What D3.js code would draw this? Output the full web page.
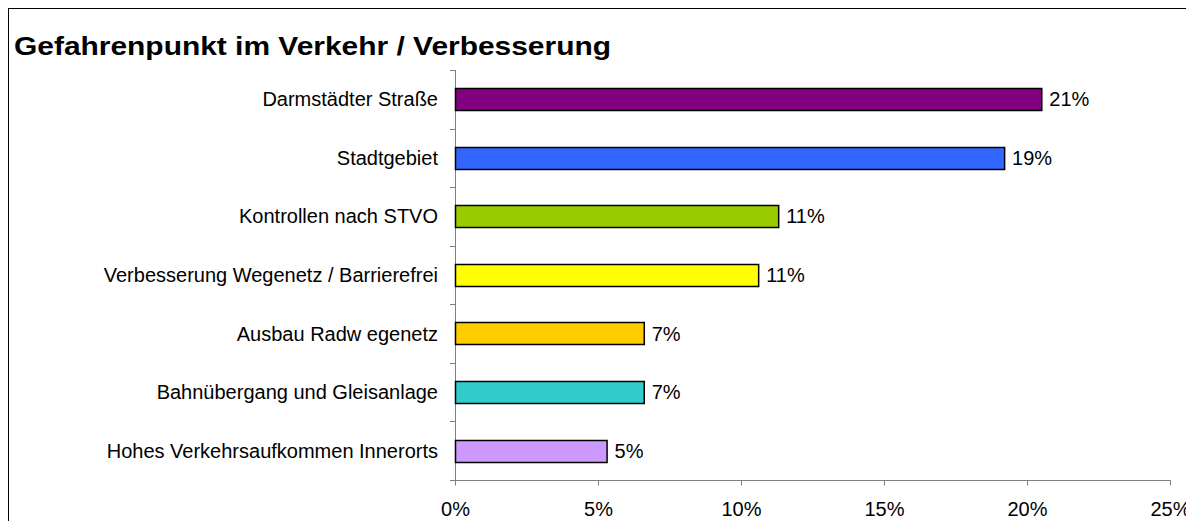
<!DOCTYPE html>
<html><head><meta charset="utf-8">
<script src="https://cdn.jsdelivr.net/npm/d3@7"></script>
<style>body{margin:0;background:#fff;}svg{display:block;font-family:"Liberation Sans",Arial,sans-serif;}</style>
</head><body>
<svg id="c" width="1186" height="521"></svg>
<script>
const categories = ["Darmstädter Straße","Stadtgebiet","Kontrollen nach STVO","Verbesserung Wegenetz / Barrierefrei","Ausbau Radw egenetz","Bahnübergang und Gleisanlage","Hohes Verkehrsaufkommen Innerorts"];
const values = [20.5, 19.2, 11.3, 10.6, 6.6, 6.6, 5.3];
const valueLabels = ["21%","19%","11%","11%","7%","7%","5%"];
const colors = ["#800080","#3366FF","#99CC00","#FFFF00","#FFCC00","#33CCCC","#CC99FF"];
const xTicks = [0,5,10,15,20,25];
const title = "Gefahrenpunkt im Verkehr / Verbesserung";

const svg = d3.select("#c");
svg.append("rect").attr("x",8.5).attr("y",8.5).attr("width",1200).attr("height",600)
  .attr("fill","#fff").attr("stroke","#000").attr("stroke-width",1);
svg.append("text").attr("x",14).attr("y",55).attr("font-size",25.5).attr("font-weight","bold")
  .attr("textLength",597).attr("lengthAdjust","spacingAndGlyphs")
  .attr("fill","#000").text(title);

const x = d3.scaleLinear().domain([0,25]).range([455,1170]);
const y = d3.scaleBand().domain(categories).range([70,480]).paddingInner(0.62).paddingOuter(0.31);

const gy = svg.append("g");
gy.append("line").attr("x1",455.5).attr("x2",455.5).attr("y1",70).attr("y2",484).attr("stroke","#808080");
d3.range(categories.length+1).forEach(i=>{
  const yy = Math.round(70 + i*(410/categories.length))+0.5;
  gy.append("line").attr("x1",450).attr("x2",455).attr("y1",yy).attr("y2",yy).attr("stroke","#808080");
});
const xa = svg.append("g").attr("transform","translate(0,480.5)")
  .call(d3.axisBottom(x).tickValues(xTicks).tickFormat(d=>d+"%").tickSize(5).tickSizeOuter(0));
xa.select(".domain").attr("stroke","#808080").attr("d","M455,0H1171");
xa.selectAll(".tick line").attr("stroke","#808080");
xa.selectAll(".tick text").attr("font-size",20).attr("fill","#000")
  .attr("font-family","Liberation Sans, Arial, sans-serif").attr("y",35.5).attr("dy",0);

svg.selectAll("rect.bar").data(categories).enter().append("rect").attr("class","bar")
  .attr("x",x(0)+0.5).attr("y",d=>Math.round(y(d))+0.5)
  .attr("width",(d,i)=>x(values[i])-x(0)).attr("height",Math.round(y.bandwidth()))
  .attr("fill",(d,i)=>colors[i]).attr("stroke","#000").attr("stroke-width",1.5);

svg.selectAll("text.cat").data(categories).enter().append("text").attr("class","cat")
  .attr("x",438).attr("y",d=>y(d)+y.bandwidth()/2).attr("dy","0.35em")
  .attr("text-anchor","end").attr("font-size",20).attr("fill","#000").text(d=>d);

svg.selectAll("text.val").data(categories).enter().append("text").attr("class","val")
  .attr("x",(d,i)=>x(values[i])+8).attr("y",d=>y(d)+y.bandwidth()/2).attr("dy","0.35em")
  .attr("font-size",20).attr("fill","#000").text((d,i)=>valueLabels[i]);
</script>
</body></html>
